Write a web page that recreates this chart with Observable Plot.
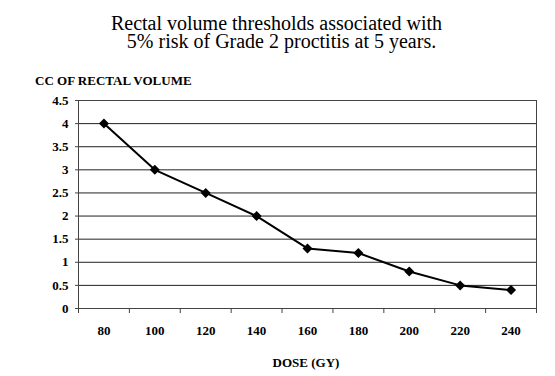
<!DOCTYPE html>
<html>
<head>
<meta charset="utf-8">
<script src="https://cdn.jsdelivr.net/npm/d3@7"></script>
<script src="https://cdn.jsdelivr.net/npm/@observablehq/plot@0.6"></script>
<style>
  html, body { margin: 0; padding: 0; background: #fff; }
  #wrap { position: relative; width: 555px; height: 376px; font-family: "Liberation Serif", Times, "Times New Roman", "DejaVu Serif", serif; color: #000; }
  #wrap svg { position: absolute; left: 0; top: 0; }
  .t { position: absolute; white-space: pre; }
  #title { left: 0; width: 553px; top: 14px; text-align: center; font-size: 20px; line-height: 18px; }
  #ylab { left: 35px; top: 73px; font-size: 13px; font-weight: bold; }
  #xlab { left: 0; width: 612px; top: 355px; text-align: center; font-size: 13px; font-weight: bold; }
</style>
</head>
<body>
<div id="wrap">
  <div class="t" id="title">Rectal volume thresholds associated with
  5% risk of Grade 2 proctitis at 5 years.</div>
  <div class="t" id="ylab">CC OF RECTAL VOLUME</div>
  <div class="t" id="xlab">DOSE (GY)</div>
</div>
<script>
const doses = [80, 100, 120, 140, 160, 180, 200, 220, 240];
const ccValues = [4, 3, 2.5, 2, 1.3, 1.2, 0.8, 0.5, 0.4];
const yTicks = [0, 0.5, 1, 1.5, 2, 2.5, 3, 3.5, 4, 4.5];

const data = doses.map((d, i) => ({dose: d, cc: ccValues[i]}));
const half = (doses[1] - doses[0]) / 2;
const boundaries = [doses[0] - half, ...doses.map(d => d + half)];

const chart = Plot.plot({
  width: 555,
  height: 376,
  marginLeft: 78,
  marginRight: 19,
  marginTop: 100,
  marginBottom: 68,
  style: {fontFamily: "'Liberation Serif', Times, 'Times New Roman', 'DejaVu Serif', serif", fontSize: "13px", color: "#000", background: "#fff"},
  x: {type: "linear", domain: [boundaries[0], boundaries[boundaries.length - 1]]},
  y: {domain: [0, 4.5]},
  marks: [
    Plot.gridY(yTicks, {stroke: "#222", strokeOpacity: 1, strokeWidth: 1}),
    Plot.frame({stroke: "#444", strokeWidth: 1}),
    Plot.axisY(yTicks, {tickSize: 3, tickPadding: 7, fontWeight: "bold", fontSize: 13, tickFormat: d => String(d), label: null, stroke: "#444"}),
    Plot.axisX(boundaries, {tickSize: 5, tickFormat: () => "", label: null, stroke: "#444"}),
    Plot.axisX(doses, {tickSize: 0, tickPadding: 17, fontWeight: "bold", fontSize: 13, tickFormat: d => String(d), label: null}),
    Plot.line(data, {x: "dose", y: "cc", stroke: "#000", strokeWidth: 2}),
    Plot.dot(data, {x: "dose", y: "cc", symbol: "diamond2", fill: "#000", stroke: "none", r: 4.5})
  ]
});
document.getElementById("wrap").prepend(chart);
</script>
</body>
</html>
